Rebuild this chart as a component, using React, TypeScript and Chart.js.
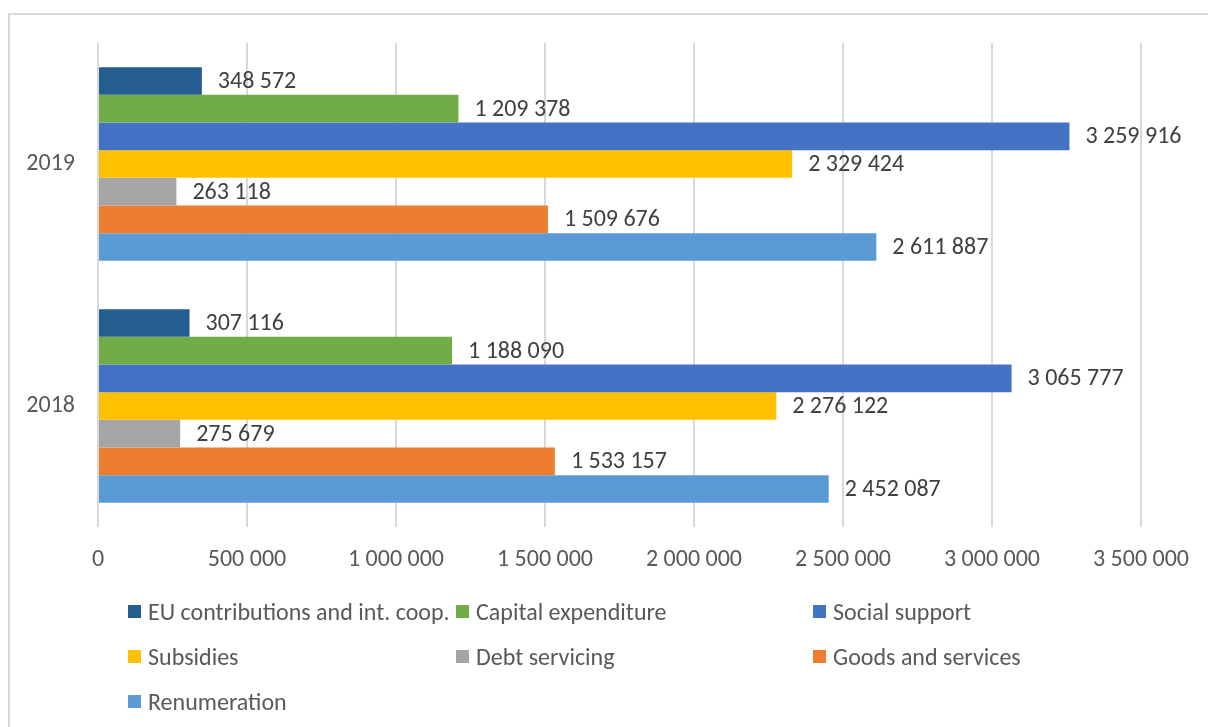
import React, { useEffect, useRef } from 'react';
import { Chart, registerables, ChartConfiguration, Plugin } from 'chart.js';

Chart.register(...registerables);

// categories, top to bottom
const years = ['2019', '2018'];

// one value per year, same order as years
const euContributions = [348572, 307116];
const capitalExpenditure = [1209378, 1188090];
const socialSupport = [3259916, 3065777];
const subsidies = [2329424, 2276122];
const debtServicing = [263118, 275679];
const goodsAndServices = [1509676, 1533157];
const renumeration = [2611887, 2452087];

const seriesNames = [
    'EU contributions and int. coop.',
    'Capital expenditure',
    'Social support',
    'Subsidies',
    'Debt servicing',
    'Goods and services',
    'Renumeration',
];
const seriesValues = [
    euContributions,
    capitalExpenditure,
    socialSupport,
    subsidies,
    debtServicing,
    goodsAndServices,
    renumeration,
];
const seriesColors = ['#255E91', '#70AD47', '#4472C4', '#FFC000', '#A5A5A5', '#ED7D31', '#5B9BD5'];

const axisMax = 3500000;
const axisStep = 500000;

const FONT = 'Carlito, Lato, "Noto Sans", sans-serif';

const withSpaces = (v: number) => String(Math.round(v)).replace(/\B(?=(\d{3})+(?!\d))/g, ' ');

// value labels to the right of every bar
const barLabels: Plugin<'bar'> = {
    id: 'barLabels',
    afterDatasetsDraw(chart) {
        const { ctx } = chart;
        ctx.save();
        ctx.font = `24px ${FONT}`;
        ctx.fillStyle = '#404040';
        ctx.textAlign = 'left';
        ctx.textBaseline = 'middle';
        chart.data.datasets.forEach((ds, i) => {
            const meta = chart.getDatasetMeta(i);
            meta.data.forEach((bar: any, j) => {
                const v = ds.data[j] as number;
                ctx.fillText(withSpaces(v), bar.x + 16, bar.y + 1);
            });
        });
        ctx.restore();
    },
};

const App: React.FC = () => {
    const canvasRef = useRef<HTMLCanvasElement>(null);
    const chartRef = useRef<Chart<'bar'>>();

    useEffect(() => {
        if (!canvasRef.current) return;

        const config: ChartConfiguration<'bar'> = {
            type: 'bar',
            data: {
                labels: years,
                datasets: seriesNames.map((name, i) => ({
                    label: name,
                    data: seriesValues[i],
                    backgroundColor: seriesColors[i],
                    borderWidth: 0,
                    categoryPercentage: 0.8,
                    barPercentage: 1.0,
                })),
            },
            options: {
                indexAxis: 'y',
                animation: false,
                responsive: false,
                maintainAspectRatio: false,
                layout: { padding: { left: 8, top: 43, right: 67, bottom: 0 } },
                plugins: {
                    legend: { display: false },
                    tooltip: { enabled: false },
                },
                scales: {
                    x: {
                        min: 0,
                        max: axisMax,
                        afterFit: (scale: any) => { scale.height = 200; },
                        ticks: {
                            stepSize: axisStep,
                            padding: 19,
                            color: '#595959',
                            font: { family: FONT, size: 24 },
                            callback: (v) => withSpaces(Number(v)),
                        },
                        grid: { color: '#d9d9d9', lineWidth: 2, drawTicks: false },
                        border: { display: false },
                    },
                    y: {
                        afterFit: (scale: any) => { scale.width = 90; },
                        ticks: {
                            padding: 23,
                            color: '#595959',
                            font: { family: FONT, size: 24 },
                        },
                        grid: { display: false, drawTicks: false },
                        border: { display: false },
                    },
                },
            },
            plugins: [barLabels],
        };

        chartRef.current = new Chart(canvasRef.current, config);

        return () => {
            if (chartRef.current) {
                chartRef.current.destroy();
            }
        };
    }, []);

    const legendCols = [128, 456, 813];
    const legendRows = [611, 656, 701];

    return (
        <div style={{ position: 'absolute', left: 0, top: 0, width: 1208, height: 727, overflow: 'hidden', background: '#fff' }}>
            <div style={{ position: 'absolute', left: 8, top: 13, width: 1300, height: 800, border: '2px solid #d9d9d9', boxSizing: 'border-box' }} />
            <canvas ref={canvasRef} width={1208} height={727} style={{ position: 'absolute', left: 0, top: 0 }} />
            {seriesNames.map((name, i) => (
                <div
                    key={name}
                    style={{
                        position: 'absolute',
                        left: legendCols[i % 3],
                        top: legendRows[Math.floor(i / 3)] - 16,
                        height: 32,
                        display: 'flex',
                        alignItems: 'center',
                        fontFamily: FONT,
                        fontSize: 24,
                        color: '#595959',
                        whiteSpace: 'nowrap',
                    }}
                >
                    <span style={{ display: 'inline-block', width: 13, height: 13, background: seriesColors[i], marginRight: 7 }} />
                    {name}
                </div>
            ))}
        </div>
    );
};

export default App;
